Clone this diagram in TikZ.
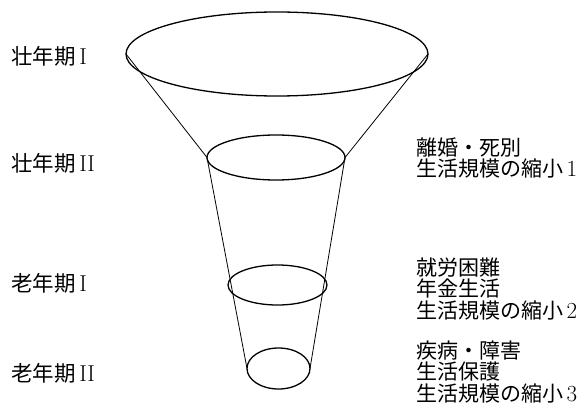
\documentclass[tikz,border=0pt]{standalone}
\usepackage{fontspec}
\newfontfamily\jp{Noto Sans CJK JP}
\usetikzlibrary{shapes.geometric}
\newcommand{\lat}[1]{{\fontsize{23}{21.5}\selectfont #1}}
\begin{document}
\begin{tikzpicture}[x=1pt,y=-1pt,
  ring/.style={draw,ellipse,inner sep=0pt,outer sep=0pt,line width=1.3pt},
  side/.style={line width=0.8pt},
  lbl/.style={anchor=base west,inner sep=0pt,font=\fontsize{21.5}{21.5}\selectfont},
  note/.style={anchor=base west,inner sep=0pt,align=left,font=\fontsize{21}{21.5}\selectfont}]
\fill[white] (0,0) rectangle (577,406);
\useasboundingbox (0,0) rectangle (577,406);
% rings
\node[ring,minimum width=302pt,minimum height=84pt] (e1) at (277,54) {};
\node[ring,minimum width=138pt,minimum height=45pt] (e2) at (276,157.5) {};
\node[ring,minimum width=99pt,minimum height=40pt] (e3) at (277.5,285) {};
\node[ring,minimum width=63pt,minimum height=41pt] (e4) at (278.5,368.5) {};
% sides
\draw[side] (e1.west) -- (e2.west);
\draw[side] (e1.east) -- (e2.east);
\draw[side] (e2.west) -- (e4.west);
\draw[side] (e2.east) -- (e4.east);
% left labels
\node[lbl] (l1) at (11,65) {{\jp 壮年期}\,\lat{I}};
\node[lbl] (l2) at (11,171) {{\jp 壮年期}\,\lat{II}};
\node[lbl] (l3) at (11,291) {{\jp 老年期}\,\lat{I}};
\node[lbl] (l4) at (11,381) {{\jp 老年期}\,\lat{II}};
% right notes (base = last line)
\node[note] (n1) at (416,176.5) {{\jp 離婚・死別}\\{\jp 生活規模の縮小}\,\lat{1}};
\node[note] (n2) at (416,318) {{\jp 就労困難}\\{\jp 年金生活}\\{\jp 生活規模の縮小}\,\lat{2}};
\node[note] (n3) at (416,401) {{\jp 疾病・障害}\\{\jp 生活保護}\\{\jp 生活規模の縮小}\,\lat{3}};
\end{tikzpicture}
\end{document}
